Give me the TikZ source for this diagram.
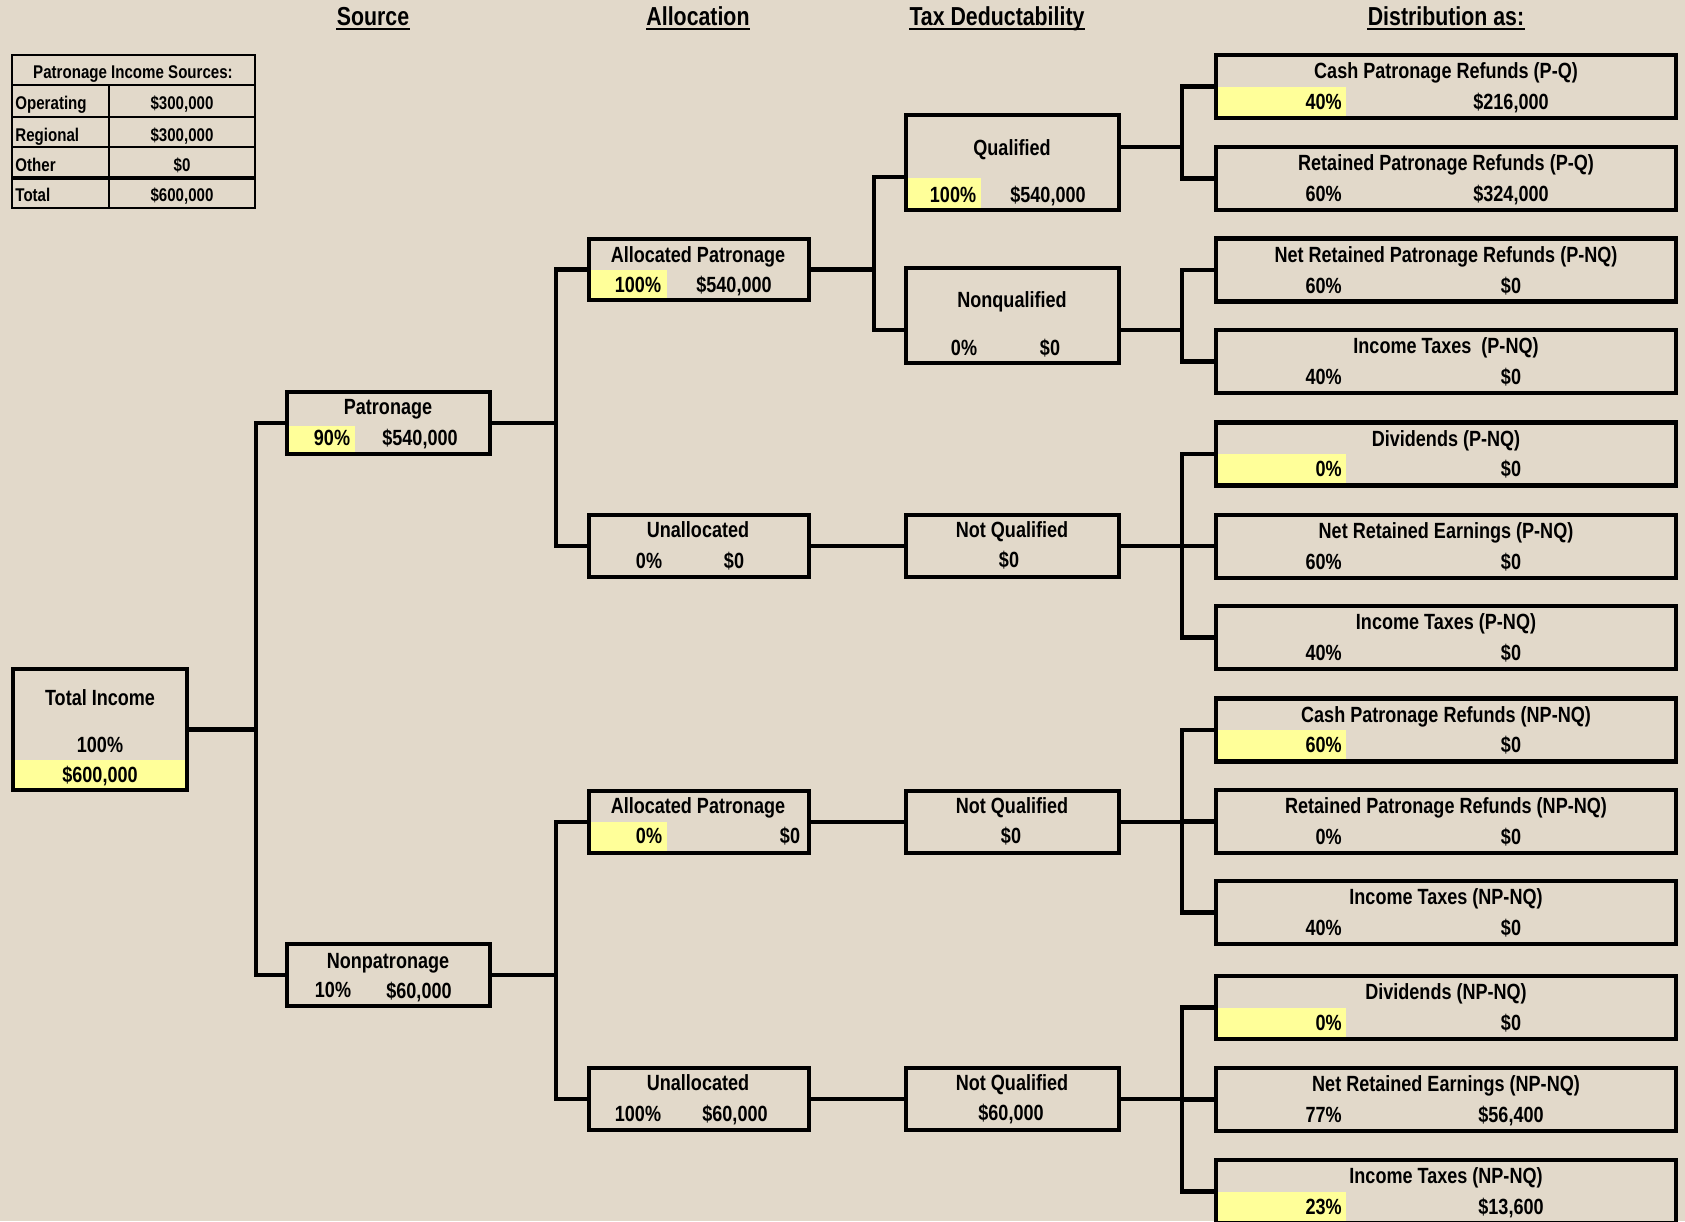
\documentclass[tikz,border=0pt]{standalone}
\usepackage{fontspec}
\setmainfont{Liberation Sans}[FakeStretch=0.82]
\definecolor{bg}{RGB}{226,217,202}
\definecolor{hl}{RGB}{255,255,153}
\tikzset{
  box/.style={draw=black, line width=2.2pt, inner sep=0pt, outer sep=0pt},
  conn/.style={draw=black, line width=2.2pt},
  hlf/.style={fill=hl},
  txt/.style={inner sep=0pt, font=\fontsize{11}{13}\selectfont\bfseries, text height=7.9pt, text depth=0pt},
  ttxt/.style={inner sep=0pt, font=\fontsize{9.2}{11}\selectfont\bfseries, text height=6.6pt, text depth=0pt},
  hdr/.style={inner sep=0pt, font=\fontsize{13}{15}\selectfont\bfseries, text height=9.3pt, text depth=0pt},
  tbl/.style={draw=black, line width=1.1pt},
}
\newcommand\bx[5]{\node[box, minimum width={(#4-#2)*0.5pt}, minimum height={(#5-#3)*0.5pt}] (#1) at ({(#2+#4)/2},{(#3+#5)/2}) {};}
\newcommand\dbox[6]{%
  \ifnum#6=1 \fill[hlf] ({1216},{#2+31.5}) rectangle ({1346},{#2+63}); \fi
  \bx{#1}{1216}{#2}{1676}{#2+63}
  \node[txt] (#1t) at ({1446},{#2+16}) {#3};
  \node[txt,anchor=east] (#1p) at ({1342},{#2+46.5}) {#4};
  \node[txt] (#1v) at ({1511},{#2+46.5}) {#5};}
\begin{document}
\begin{tikzpicture}[x=0.5pt,y=-0.5pt]
\clip (0,0) rectangle (1685,1221);
\fill[bg] (0,0) rectangle (1685,1221);
\useasboundingbox (0,0) rectangle (1685,1221);

% headers
\node[hdr] (h1) at (373,16) {Source};
\node[hdr] (h2) at (698,16) {Allocation};
\node[hdr] (h3) at (997,16) {Tax Deductability};
\node[hdr] (h4) at (1446,16) {Distribution as:};
\foreach \h in {h1,h2,h3,h4}{\draw[line width=1.3pt] ([yshift=-1.6pt]\h.south west) -- ([yshift=-1.6pt]\h.south east);}

% table
\draw[tbl] (12,55) rectangle (255,208);
\draw[tbl] (12,85) -- (255,85);
\draw[tbl] (12,117) -- (255,117);
\draw[tbl] (12,147) -- (255,147);
\draw[tbl, line width=1.6pt] (12,178) -- (255,178);
\draw[tbl] (109,85) -- (109,208);
\node[ttxt] (th) at (133,72) {Patronage Income Sources:};
\node[ttxt,anchor=west] (r1a) at (15,103) {Operating};
\node[ttxt] (r1b) at (182,103) {\$300,000};
\node[ttxt,anchor=west] (r2a) at (15,134.5) {Regional};
\node[ttxt] (r2b) at (182,134.5) {\$300,000};
\node[ttxt,anchor=west] (r3a) at (15,165) {Other};
\node[ttxt] (r3b) at (182,165) {\$0};
\node[ttxt,anchor=west] (r4a) at (15,195) {Total};
\node[ttxt] (r4b) at (182,195) {\$600,000};

% highlights
\fill[hlf] (15,760) rectangle (185,788);
\fill[hlf] (289,426) rectangle (355,452);
\fill[hlf] (591,270) rectangle (667,298);
\fill[hlf] (591,822) rectangle (667,851);
\fill[hlf] (908,178) rectangle (981,208);

% boxes
\bx{total}{13}{669}{187}{790}
\bx{pat}{287}{392}{490}{454}
\bx{npat}{287}{944}{490}{1006}
\bx{ap1}{589}{239}{809}{300}
\bx{un1}{589}{515}{809}{577}
\bx{ap2}{589}{791}{809}{853}
\bx{un2}{589}{1068}{809}{1130}
\bx{q}{906}{115}{1119}{210}
\bx{nq}{906}{268}{1119}{363}
\bx{nq1}{906}{515}{1119}{577}
\bx{nq2}{906}{791}{1119}{853}
\bx{nq3}{906}{1068}{1119}{1130}

\dbox{d1}{55}{Cash Patronage Refunds (P-Q)}{40\%}{\$216,000}{1}
\dbox{d2}{147}{Retained Patronage Refunds (P-Q)}{60\%}{\$324,000}{0}
\dbox{d3}{238.6}{Net Retained Patronage Refunds (P-NQ)}{60\%}{\$0}{0}
\dbox{d4}{330}{Income Taxes\ \ (P-NQ)}{40\%}{\$0}{0}
\dbox{d5}{422.3}{Dividends (P-NQ)}{0\%}{\$0}{1}
\dbox{d6}{514.7}{Net Retained Earnings (P-NQ)}{60\%}{\$0}{0}
\dbox{d7}{606}{Income Taxes (P-NQ)}{40\%}{\$0}{0}
\dbox{d8}{698.5}{Cash Patronage Refunds (NP-NQ)}{60\%}{\$0}{1}
\dbox{d9}{790}{Retained Patronage Refunds (NP-NQ)}{0\%}{\$0}{0}
\dbox{d10}{881}{Income Taxes (NP-NQ)}{40\%}{\$0}{0}
\dbox{d11}{976}{Dividends (NP-NQ)}{0\%}{\$0}{1}
\dbox{d12}{1068}{Net Retained Earnings (NP-NQ)}{77\%}{\$56,400}{0}
\dbox{d13}{1160}{Income Taxes (NP-NQ)}{23\%}{\$13,600}{1}

% box texts
\node[txt] (totalt) at (100,698) {Total Income};
\node[txt] (totalp) at (100,745) {100\%};
\node[txt] (totalv) at (100,775) {\$600,000};
\node[txt] (patt) at (388,407) {Patronage};
\node[txt] (patp) at (332,438) {90\%};
\node[txt] (patv) at (420,438) {\$540,000};
\node[txt] (npatt) at (388,961) {Nonpatronage};
\node[txt] (npatp) at (333,990) {10\%};
\node[txt] (npatv) at (419,991) {\$60,000};
\node[txt] (ap1t) at (698,255) {Allocated Patronage};
\node[txt] (ap1p) at (638,285) {100\%};
\node[txt] (ap1v) at (734,285) {\$540,000};
\node[txt] (un1t) at (698,530) {Unallocated};
\node[txt] (un1p) at (649,561) {0\%};
\node[txt] (un1v) at (734,561) {\$0};
\node[txt] (ap2t) at (698,806) {Allocated Patronage};
\node[txt] (ap2p) at (649,836) {0\%};
\node[txt] (ap2v) at (790,836) {\$0};
\node[txt] (un2t) at (698,1083) {Unallocated};
\node[txt] (un2p) at (638,1114) {100\%};
\node[txt] (un2v) at (735,1114) {\$60,000};
\node[txt] (qt) at (1012,148) {Qualified};
\node[txt] (qp) at (953,195) {100\%};
\node[txt] (qv) at (1048,195) {\$540,000};
\node[txt] (nqt) at (1012,300) {Nonqualified};
\node[txt] (nqp) at (964,348) {0\%};
\node[txt] (nqv) at (1050,348) {\$0};
\node[txt] (nq1t) at (1012,530) {Not Qualified};
\node[txt] (nq1v) at (1009,560) {\$0};
\node[txt] (nq2t) at (1012,806) {Not Qualified};
\node[txt] (nq2v) at (1011,836) {\$0};
\node[txt] (nq3t) at (1012,1083) {Not Qualified};
\node[txt] (nq3v) at (1011,1113) {\$60,000};

% connectors
\coordinate (j1) at (256,0);
\coordinate (j2) at (556,0);
\coordinate (j3) at (874,0);
\coordinate (j4) at (1182,0);
\coordinate (qin) at (0,177);
\coordinate (qout) at (0,147);
\coordinate (nqin) at (0,330);
\draw[conn] (total.east) -- (j1 |- total.east);
\draw[conn] (pat.west) -| (j1 |- npat.west) -- (npat.west);
\draw[conn] (pat.east) -- (j2 |- pat.east);
\draw[conn] (ap1.west) -| (j2 |- un1.west) -- (un1.west);
\draw[conn] (npat.east) -- (j2 |- npat.east);
\draw[conn] (ap2.west) -| (j2 |- un2.west) -- (un2.west);
\draw[conn] (ap1.east) -- (j3 |- ap1.east);
\draw[conn] (q.west |- qin) -| (j3 |- nqin) -- (nq.west |- nqin);
\draw[conn] (un1.east) -- (nq1.west);
\draw[conn] (ap2.east) -- (nq2.west);
\draw[conn] (un2.east) -- (nq3.west);
\draw[conn] (q.east |- qout) -- (j4 |- qout);
\draw[conn] (d1.west) -| (j4 |- d2.west) -- (d2.west);
\draw[conn] (nq.east |- nqin) -- (j4 |- nqin);
\draw[conn] (d3.west) -| (j4 |- d4.west) -- (d4.west);
\draw[conn] (nq1.east) -- (j4 |- nq1.east);
\draw[conn] (d5.west) -| (j4 |- d7.west) -- (d7.west);
\draw[conn] (d6.west) -- (j4 |- d6.west);
\draw[conn] (nq2.east) -- (j4 |- nq2.east);
\draw[conn] (d8.west) -| (j4 |- d10.west) -- (d10.west);
\draw[conn] (d9.west) -- (j4 |- d9.west);
\draw[conn] (nq3.east) -- (j4 |- nq3.east);
\draw[conn] (d11.west) -| (j4 |- d13.west) -- (d13.west);
\draw[conn] (d12.west) -- (j4 |- d12.west);
\end{tikzpicture}
\end{document}
